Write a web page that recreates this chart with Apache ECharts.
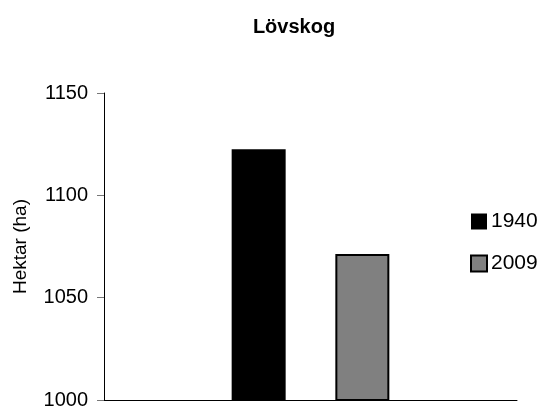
<!DOCTYPE html>
<html>
<head>
<meta charset="utf-8">
<script src="https://cdn.jsdelivr.net/npm/echarts@6/dist/echarts.min.js"></script>
<style>
  html, body { margin: 0; padding: 0; background: #fff; }
  #chart { width: 544px; height: 410px; }
</style>
</head>
<body>
<div id="chart"></div>
<script>
// Deciduous forest area (hectares), two survey years
const categories = [''];
const years = ['1940', '2009'];
const values1940 = [1122.5];
const values2009 = [1071.3];
const yTicks = { min: 1000, max: 1150, step: 50 };

const FONT = '"Liberation Sans", Arial, sans-serif';

const chart = echarts.init(document.getElementById('chart'), null, { renderer: 'canvas' });

chart.setOption({
  animation: false,
  backgroundColor: '#ffffff',
  title: {
    text: 'Lövskog',
    left: 294,
    textAlign: 'center',
    top: 17,
    padding: 0,
    textStyle: { fontFamily: FONT, fontSize: 20, fontWeight: 'bold', color: '#000' }
  },
  legend: {
    orient: 'vertical',
    left: 470,
    top: 211,
    padding: 0,
    itemWidth: 16,
    itemHeight: 16,
    itemGap: 21,
    icon: 'rect',
    textStyle: { fontFamily: FONT, fontSize: 21, color: '#000', padding: [0, 0, 0, -1] },
    data: years
  },
  grid: { left: 104, right: 27, top: 93, bottom: 6, containLabel: false },
  xAxis: {
    type: 'category',
    data: categories,
    axisLine: { lineStyle: { color: '#000', width: 1 } },
    axisTick: { show: false },
    axisLabel: { show: false }
  },
  yAxis: {
    type: 'value',
    min: yTicks.min,
    max: yTicks.max,
    interval: yTicks.step,
    name: 'Hektar (ha)',
    nameLocation: 'middle',
    nameGap: 74,
    nameTextStyle: { fontFamily: FONT, fontSize: 19, color: '#000' },
    axisLine: { show: true, lineStyle: { color: '#000', width: 1 } },
    axisTick: { show: true, length: 7, lineStyle: { color: '#777' } },
    axisLabel: { fontFamily: FONT, fontSize: 20, color: '#000', margin: 16, formatter: v => String(v) },
    splitLine: { show: false }
  },
  series: [
    {
      name: years[0],
      type: 'bar',
      data: values1940,
      barWidth: 54,
      barGap: '92%',
      itemStyle: { color: '#000000', borderColor: '#000', borderWidth: 0 }
    },
    {
      name: years[1],
      type: 'bar',
      data: values2009,
      barWidth: 54,
      itemStyle: { color: '#808080', borderColor: '#000', borderWidth: 2 }
    }
  ]
});
</script>
</body>
</html>
